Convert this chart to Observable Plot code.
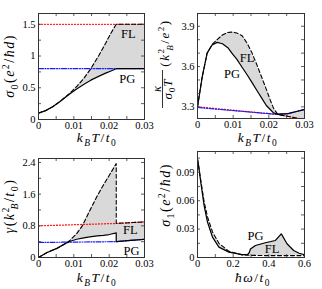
<!DOCTYPE html>
<html><head><meta charset="utf-8">
<script src="https://cdn.jsdelivr.net/npm/d3@7"></script>
<script src="https://cdn.jsdelivr.net/npm/@observablehq/plot@0.6"></script>
<style>
body{margin:0;background:#fff;}
#wrap{position:relative;width:322px;height:289px;overflow:hidden;background:#fff;}
#wrap svg{position:absolute;overflow:visible;}
#wrap svg text{font-family:"Liberation Serif","Times New Roman",serif;}
</style></head><body><div id="wrap"></div>
<script>
// ---- Panel (a): sigma_0 vs k_B T / t_0 ----
const aT   = [0, 0.002, 0.004, 0.006, 0.009, 0.011, 0.013, 0.0148, 0.017, 0.019, 0.0205, 0.022, 0.026, 0.03];
const aPG  = [0.1, 0.14, 0.2, 0.28, 0.41, 0.49, 0.56, 0.62, 0.68, 0.73, 0.765, 0.8, 0.8, 0.8];
const aFL  = [0.1, 0.14, 0.2, 0.28, 0.42, 0.53, 0.66, 0.8, 1.0, 1.2, 1.36, 1.5, 1.5, 1.5];
const aRefT = [0, 0.03];
const aRefFL = [1.5, 1.5];
const aRefPG = [0.8, 0.8];

// ---- Panel (b): kappa / (sigma_0 T) ----
const bT  = [0, 0.0013, 0.0027, 0.0041, 0.0055, 0.007, 0.0085, 0.0098, 0.011, 0.0125, 0.014, 0.0153, 0.0167, 0.018, 0.0193, 0.0204, 0.0213, 0.0225, 0.0255, 0.03];
const bPG = [3.3, 3.52, 3.70, 3.76, 3.78, 3.77, 3.74, 3.695, 3.655, 3.595, 3.535, 3.48, 3.42, 3.365, 3.31, 3.28, 3.255, 3.245, 3.25, 3.28];
const bFL = [3.3, 3.52, 3.70, 3.765, 3.80, 3.835, 3.853, 3.857, 3.85, 3.83, 3.77, 3.70, 3.61, 3.52, 3.43, 3.35, 3.29, 3.243, 3.228, 3.205];
const bRefFLT = [0, 0.0225, 0.03];
const bRefFL  = [3.3, 3.243, 3.205];
const bRefPGT = [0, 0.0225, 0.0255, 0.03];
const bRefPG  = [3.295, 3.243, 3.25, 3.28];

// ---- Panel (c): gamma ----
const cT  = [0, 0.0023, 0.0052, 0.008, 0.009, 0.0108, 0.0124, 0.0145, 0.0166, 0.0183, 0.02, 0.022, 0.022, 0.026, 0.03];
const cPG = [0, 0.12, 0.23, 0.37, 0.41, 0.46, 0.49, 0.52, 0.545, 0.56, 0.58, 0.62, 0.40, 0.43, 0.46];
const cFL = [0, 0.12, 0.23, 0.37, 0.44, 0.6, 0.8, 1.18, 1.55, 1.82, 2.07, 2.37, 0.86, 0.88, 0.90];
const cRefFLT = [0, 0.022, 0.03];
const cRefFL  = [0.8, 0.86, 0.90];
const cRefPGT = [0, 0.022, 0.026, 0.03];
const cRefPG  = [0.38, 0.40, 0.43, 0.46];

// ---- Panel (d): sigma_1 vs hbar omega / t_0 ----
const dW  = [0, 0.006, 0.018, 0.037, 0.056, 0.084, 0.12, 0.176, 0.25, 0.28, 0.29, 0.297, 0.325, 0.381, 0.437, 0.47, 0.502, 0.539, 0.57, 0.6];
const dPG = [0.104, 0.097, 0.08, 0.055, 0.0375, 0.0216, 0.011, 0.0057, 0.003, 0.003, 0.005, 0.009, 0.0127, 0.0156, 0.018, 0.025, 0.0145, 0.0074, 0.0045, 0.003];
const dFL = [0.104, 0.097, 0.082, 0.059, 0.043, 0.027, 0.015, 0.0065, 0.0028, 0.0025, 0.0024, 0.0023, 0.0022, 0.002, 0.002, 0.002, 0.002, 0.002, 0.002, 0.002];

// ---- tick labels ----
const tTicks = [0, 0.01, 0.02, 0.03];
const tMinor = [0.005, 0.01, 0.015, 0.02, 0.025];
const aYTicks = [0, 0.5, 1, 1.5];
const aYMinor = [0.25, 0.5, 0.75, 1, 1.25, 1.5];
const bYTicks = [3.3, 3.6, 3.9];
const bYMinor = [3.3, 3.4, 3.5, 3.6, 3.7, 3.8, 3.9];
const cYTicks = [0, 0.8, 1.6, 2.4];
const cYMinor = [0.4, 0.8, 1.2, 1.6, 2.0, 2.4];
const dXTicks = [0, 0.2, 0.4, 0.6];
const dXMinor = [0.1, 0.2, 0.3, 0.4, 0.5];
const dYTicks = [0, 0.03, 0.06, 0.09];
const dYMinor = [0.015, 0.03, 0.045, 0.06, 0.075, 0.09, 0.105];

// ---- curve annotations ----
const aNotes = [{x: 0.0254, y: 1.34, t: "FL"}, {x: 0.0251, y: 0.636, t: "PG"}];
const bNotes = [{x: 0.0139, y: 3.66, t: "FL"}, {x: 0.0097, y: 3.548, t: "PG"}];
const cNotes = [{x: 0.026, y: 0.69, t: "FL"}, {x: 0.0263, y: 0.17, t: "PG"}];
const dNotes = [{x: 0.325, y: 0.023, t: "PG"}, {x: 0.418, y: 0.0092, t: "FL"}];

const FONT = '"Liberation Serif", "Times New Roman", serif';
const RED = "#ff1a1a", BLUE = "#1a1aff", GRAY = "#d9d9d9";

const zip = (xs, ...cols) => xs.map((x, i) => ({x, ...Object.fromEntries(cols.map((c, j) => ["y" + j, c[i]]))}));

function dataMarks(main, refFL, refPG, notes) {
  return [
    Plot.areaY(main, {x: "x", y1: "y0", y2: "y1", fill: GRAY, clip: true}),
    Plot.lineY(refFL, {x: "x", y: "y0", stroke: RED, strokeWidth: 1.3, strokeDasharray: "1,2", clip: true}),
    Plot.lineY(refPG, {x: "x", y: "y0", stroke: BLUE, strokeWidth: 1.2, strokeDasharray: "5,1.5,1,1.5,1,1.5", clip: true}),
    Plot.lineY(main, {x: "x", y: "y0", stroke: "black", strokeWidth: 1.2, clip: true}),
    Plot.lineY(main, {x: "x", y: "y1", stroke: "black", strokeWidth: 1.1, strokeDasharray: "4,2.5", clip: true}),
    Plot.text(notes, {x: "x", y: "y", text: "t", fontSize: 12.5, fontFamily: FONT, fill: "black"})
  ];
}

function panel(cfg) {
  const {left, top, width, height, margin: [mt, mr, mb, ml], xDomain, yDomain, xTicks, yTicks, xMinor, yMinor, marks} = cfg;
  const iw = width - ml - mr, ih = height - mt - mb;
  const svg = Plot.plot({
    width, height, marginTop: mt, marginRight: mr, marginBottom: mb, marginLeft: ml,
    x: {domain: xDomain}, y: {domain: yDomain},
    style: {fontFamily: FONT, fontSize: "10.5px", overflow: "visible", background: "transparent"},
    marks: [
      ...marks,
      Plot.tickX(xMinor, {x: d => d, insetBottom: ih - 3, strokeWidth: 0.8, stroke: "#333"}),
      Plot.tickX(xMinor, {x: d => d, insetTop: ih - 3, strokeWidth: 0.8, stroke: "#333"}),
      Plot.tickY(yMinor, {y: d => d, insetRight: iw - 3, strokeWidth: 0.8, stroke: "#333"}),
      Plot.tickY(yMinor, {y: d => d, insetLeft: iw - 3, strokeWidth: 0.8, stroke: "#333"}),
      Plot.frame({stroke: "#333", strokeWidth: 1}),
      Plot.axisX(xTicks, {tickSize: 0, tickPadding: 2, label: null, tickFormat: String, fontFamily: FONT, fontSize: 10.5}),
      Plot.axisY(yTicks, {tickSize: 0, tickPadding: 3, label: null, tickFormat: String, fontFamily: FONT, fontSize: 10.5})
    ]
  });
  svg.style.left = left + "px";
  svg.style.top = top + "px";
  document.getElementById("wrap").appendChild(svg);
  return svg;
}

// rich text helper: parts = [text, flags, dx]; flags: i italic, b subscript, p superscript
function rich(svg, x, y, parts, {rotate = 0, size = 13, anchor = "middle", spacing = 0} = {}) {
  const t = d3.select(svg).append("text")
    .attr("transform", `translate(${x},${y}) rotate(${rotate})`)
    .attr("text-anchor", anchor)
    .attr("font-family", FONT)
    .attr("font-size", size)
    .attr("letter-spacing", spacing)
    .attr("fill", "black");
  let cur = 0;
  for (const [s, f = "", dx = 0] of parts) {
    const shift = f.includes("b") ? 0.3 * size : f.includes("p") ? -0.38 * size : 0;
    const sp = t.append("tspan").text(s).attr("dy", shift - cur);
    if (dx) sp.attr("dx", dx * size);
    cur = shift;
    if (f.includes("i")) sp.attr("font-style", "italic");
    if (f.includes("b") || f.includes("p")) sp.attr("font-size", size * 0.7);
  }
  return t;
}
const kT = [["k", "i"], ["B", "ib"], ["T", "i"], ["/"], ["t", "i"], ["0", "b"]];

// (a)
const sA = panel({left: 0, top: 0, width: 161, height: 145, margin: [13, 17, 26, 38],
  xDomain: [0, 0.03], yDomain: [0, 1.67], xTicks: tTicks, yTicks: aYTicks, xMinor: tMinor, yMinor: aYMinor,
  marks: dataMarks(zip(aT, aPG, aFL), zip(aRefT, aRefFL), zip(aRefT, aRefPG), aNotes)});
rich(sA, 14, 66, [["σ", "i"], ["0", "b"], ["("], ["e", "i"], ["2", "p"], ["/"], ["ħd", "i"], [")"]], {rotate: -90, size: 14, spacing: 1.5});
rich(sA, 97, 142, kT, {size: 13.5, spacing: 1.5});

// (b)
const sB = panel({left: 161, top: 0, width: 161, height: 145, margin: [13, 18, 27, 36],
  xDomain: [0, 0.03], yDomain: [3.213, 3.995], xTicks: tTicks, yTicks: bYTicks, xMinor: tMinor, yMinor: bYMinor,
  marks: dataMarks(zip(bT, bPG, bFL), zip(bRefFLT, bRefFL), zip(bRefPGT, bRefPG), bNotes)});
rich(sB, -0.5, 89, [["κ", "i"]], {rotate: -90, size: 12.5});
d3.select(sB).append("line").attr("x1", 1.5).attr("x2", 1.5).attr("y1", 70).attr("y2", 108).attr("stroke", "black").attr("stroke-width", 0.8);
rich(sB, 10.5, 89, [["σ", "i"], ["0", "b"], ["T", "i"]], {rotate: -90, size: 13, spacing: 1});
rich(sB, 8, 43, [["("], ["k", "i"], ["2", "p"], ["B", "ib", -0.25], ["/"], ["e", "i"], ["2", "p"], [")"]], {rotate: -90, size: 13, spacing: 1.5});
rich(sB, 97, 142, kT, {size: 13.5, spacing: 1.5});

// (c)
const sC = panel({left: 0, top: 145, width: 161, height: 144, margin: [13, 17, 32, 38],
  xDomain: [0, 0.03], yDomain: [0, 2.5], xTicks: tTicks, yTicks: cYTicks, xMinor: tMinor, yMinor: cYMinor,
  marks: dataMarks(zip(cT, cPG, cFL), zip(cRefFLT, cRefFL), zip(cRefPGT, cRefPG), cNotes)});
rich(sC, 14, 61, [["γ", "i"], ["("], ["k", "i"], ["2", "p"], ["B", "ib", -0.25], ["/"], ["t", "i"], ["0", "b"], [")"]], {rotate: -90, size: 14, spacing: 1.5});
rich(sC, 97, 137, kT, {size: 13.5, spacing: 1.5});

// (d)
const sD = panel({left: 161, top: 145, width: 161, height: 144, margin: [6, 18, 32, 36],
  xDomain: [0, 0.6], yDomain: [0, 0.112], xTicks: dXTicks, yTicks: dYTicks, xMinor: dXMinor, yMinor: dYMinor,
  marks: dataMarks(zip(dW, dPG, dFL), [], [], dNotes)});
rich(sD, 9, 50, [["σ", "i"], ["1", "b"], ["("], ["e", "i"], ["2", "p"], ["/"], ["ħd", "i"], [")"]], {rotate: -90, size: 14, spacing: 1.5});
rich(sD, 92, 137, [["ħω", "i"], ["/"], ["t", "i"], ["0", "b"]], {size: 13.5, spacing: 1.5});
</script></body></html>
